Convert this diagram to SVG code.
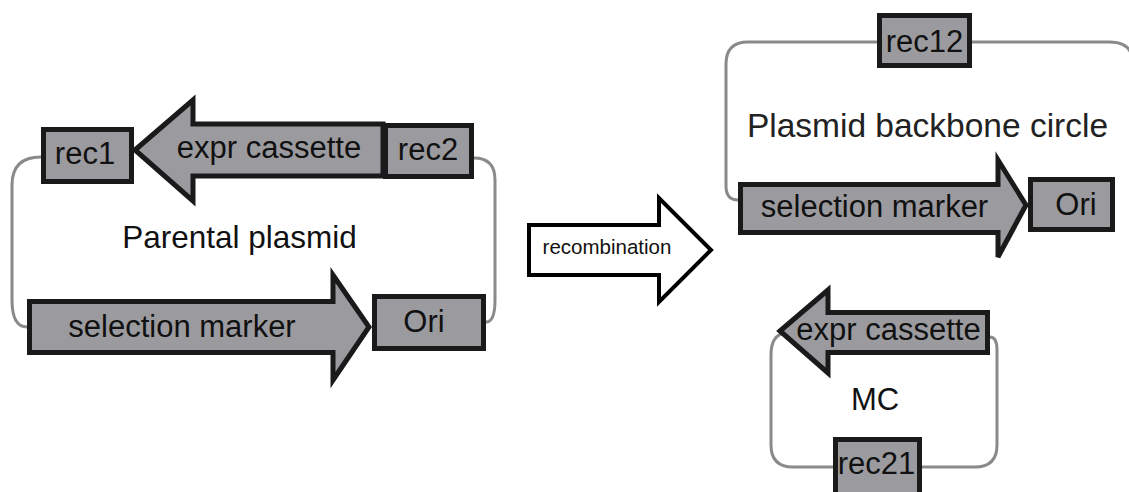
<svg xmlns="http://www.w3.org/2000/svg" width="1129" height="492" viewBox="0 0 1129 492">
<style>
.loop{fill:none;stroke:#8a8a8a;stroke-width:3}
.part{fill:#9b9b9f;stroke:#1a1a1a;stroke-width:5;stroke-linejoin:miter}
.t{font-family:"Liberation Sans",Arial,sans-serif;font-size:31px;fill:#111;text-anchor:middle}
.big{font-size:33.5px;fill:#222}
.small{font-size:20.5px}
</style>
<rect width="1129" height="492" fill="#fff"/>
<g id="connectors">
<path class="loop" d="M41,157 Q12,157 12,185 V300 Q12,327 27,327"/>
<path class="loop" d="M474,158 Q495,158 495,180 V300 Q495,322 486,322"/>
<path class="loop" d="M738,200 Q726,200 726,186 V64 Q726,42 748,42 H1110 Q1133,42 1133,64 V220"/>
<path class="loop" d="M785,333 Q771,335 771,355 V445 Q771,467 793,467 H833"/>
<path class="loop" d="M922,467 H975 Q997,467 997,445 V350 Q997,337 990,337"/>
</g>
<g id="parental-expr-cassette">
<polygon class="part" points="135,150 193,100 193,124 383,124 383,176 193,176 193,201"/>
<text class="t" x="269" y="158">expr cassette</text>
</g>
<g id="parental-rec1">
<rect class="part" x="43.5" y="129.5" width="88" height="52"/>
<text class="t" x="85" y="164">rec1</text>
</g>
<g id="parental-rec2">
<rect class="part" x="385.5" y="125.5" width="86" height="51"/>
<text class="t" x="428" y="160">rec2</text>
</g>
<g id="parental-label">
<text class="t" x="239.5" y="248" style="font-size:31.5px">Parental plasmid</text>
</g>
<g id="parental-selection-marker">
<polygon class="part" points="29.5,301.5 333,301.5 333,275 369,327 333,380 333,352.5 29.5,352.5"/>
<text class="t" x="182" y="337">selection marker</text>
</g>
<g id="parental-ori">
<rect class="part" x="374.5" y="296.5" width="109" height="52"/>
<text class="t" x="424" y="332">Ori</text>
</g>
<g id="recombination">
<polygon points="529,225 659,225 659,198 711,250 659,302 659,275 529,275" fill="#fff" stroke="#000" stroke-width="4"/>
<text class="t small" x="607" y="254">recombination</text>
</g>
<g id="backbone-rec12">
<rect class="part" x="879.5" y="15.5" width="90" height="50"/>
<text class="t" x="924.5" y="52">rec12</text>
</g>
<g id="backbone-label">
<text class="t big" x="927.5" y="137">Plasmid backbone circle</text>
</g>
<g id="backbone-selection-marker">
<polygon class="part" points="740.5,184.5 998,184.5 998,160 1026,205 998,257 998,232.5 740.5,232.5"/>
<text class="t" x="874.5" y="217">selection marker</text>
</g>
<g id="backbone-ori">
<rect class="part" x="1030.5" y="179.5" width="82" height="50"/>
<text class="t" x="1076" y="215">Ori</text>
</g>
<g id="mc-expr-cassette">
<polygon class="part" points="780,331 828,290 828,312.5 987.5,312.5 987.5,352.5 828,352.5 828,373"/>
<text class="t" x="888.5" y="340">expr cassette</text>
</g>
<g id="mc-label">
<text class="t" x="875" y="410">MC</text>
</g>
<g id="mc-rec21">
<rect class="part" x="835.5" y="439.5" width="84" height="60"/>
<text class="t" x="876.5" y="474">rec21</text>
</g>
</svg>
